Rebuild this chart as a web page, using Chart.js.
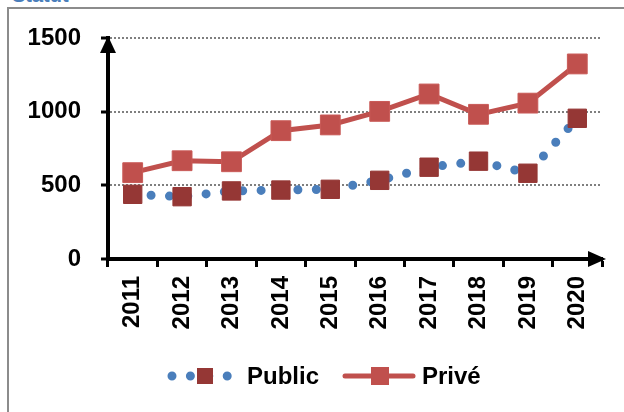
<!DOCTYPE html>
<html lang="fr"><head>
<meta charset="utf-8"/>
<title>Public / Privé</title>
<script src="https://cdn.jsdelivr.net/npm/chart.js"></script>
<style>
    html, body { margin: 0; padding: 0; background: #fff; }
    body {
        width: 624px; height: 412px; position: relative; overflow: hidden;
        font-family: 'Liberation Sans', Arial, sans-serif;
    }
    #caption {
        position: absolute; left: 12px; top: -15px;
        font-size: 20px; line-height: 20px; font-weight: bold; color: #4a7ebb;
    }
    #frame {
        position: absolute; left: 7px; top: 7px; width: 720px; height: 520px;
        border: 2px solid #8c8c8c;
    }
    #chart { position: absolute; left: 0; top: 0; }
</style>
</head>
<body>
<div id="caption">Statut</div>
<div id="frame"></div>
<canvas id="chart" width="624" height="412"></canvas>
<script>
    const years = ['2011', '2012', '2013', '2014', '2015', '2016', '2017', '2018', '2019', '2020'];
    const publicValues = [439, 423, 462, 468, 473, 534, 623, 664, 582, 955];
    const priveValues = [586, 667, 660, 871, 910, 1002, 1120, 982, 1058, 1324];
    const yTicks = [0, 500, 1000, 1500];

    const FONT = "'Liberation Sans', Arial, sans-serif";
    const blue = '#4a7ebb';
    const darkRed = '#953735';
    const red = '#c0504d';

    // arrows at the end of both axes
    const axisArrows = {
        id: 'axisArrows',
        afterDraw(chart) {
            const { ctx, chartArea } = chart;
            const ax = chart.scales.y.right;
            const ay = chart.scales.x.top;
            ctx.save();
            ctx.fillStyle = '#000';
            ctx.beginPath();
            ctx.moveTo(ax, chartArea.top - 2);
            ctx.lineTo(ax - 8, chartArea.top + 15);
            ctx.lineTo(ax + 8, chartArea.top + 15);
            ctx.closePath();
            ctx.fill();
            ctx.beginPath();
            ctx.moveTo(chartArea.right + 4, ay);
            ctx.lineTo(chartArea.right - 14, ay - 8);
            ctx.lineTo(chartArea.right - 14, ay + 8);
            ctx.closePath();
            ctx.fill();
            ctx.restore();
        }
    };

    // legend drawn by hand so the "Public" sample shows dots and a square
    const customLegend = {
        id: 'customLegend',
        afterDraw(chart) {
            const { ctx } = chart;
            const [pub, pri] = chart.data.datasets;
            const y = 376;
            ctx.save();
            ctx.font = 'bold 24px ' + FONT;
            ctx.textBaseline = 'middle';

            ctx.strokeStyle = pub.borderColor;
            ctx.lineWidth = pub.borderWidth;
            ctx.lineCap = 'round';
            ctx.setLineDash(pub.borderDash);
            ctx.beginPath();
            ctx.moveTo(172, y);
            ctx.lineTo(230, y);
            ctx.stroke();
            ctx.setLineDash([]);
            ctx.fillStyle = pub.pointBackgroundColor;
            ctx.fillRect(197, y - 8, 16, 16);
            ctx.fillStyle = '#000';
            ctx.fillText(pub.label, 247, y + 1);

            ctx.strokeStyle = pri.borderColor;
            ctx.lineWidth = pri.borderWidth;
            ctx.beginPath();
            ctx.moveTo(345, y);
            ctx.lineTo(413, y);
            ctx.stroke();
            ctx.fillStyle = pri.pointBackgroundColor;
            ctx.fillRect(371, y - 9, 18, 18);
            ctx.fillStyle = '#000';
            ctx.fillText(pri.label, 422, y + 1);
            ctx.restore();
        }
    };

    new Chart(document.getElementById('chart'), {
        type: 'line',
        data: {
            labels: years,
            datasets: [
                {
                    label: 'Public',
                    data: publicValues,
                    borderColor: blue,
                    borderWidth: 9,
                    borderDash: [0, 18.4],
                    borderCapStyle: 'round',
                    tension: 0,
                    pointStyle: 'rect',
                    pointRadius: 13,
                    pointBackgroundColor: darkRed,
                    pointBorderColor: darkRed,
                    pointBorderWidth: 1
                },
                {
                    label: 'Privé',
                    data: priveValues,
                    borderColor: red,
                    borderWidth: 5,
                    borderCapStyle: 'round',
                    tension: 0,
                    pointStyle: 'rect',
                    pointRadius: 14,
                    pointBackgroundColor: red,
                    pointBorderColor: '#c95a57',
                    pointBorderWidth: 1
                }
            ]
        },
        options: {
            responsive: false,
            animation: false,
            layout: { padding: { left: 0, right: 22, top: 38, bottom: 0 } },
            plugins: {
                legend: { display: false },
                tooltip: { enabled: false }
            },
            scales: {
                x: {
                    offset: true,
                    grid: {
                        offset: true,
                        drawOnChartArea: false,
                        drawTicks: true,
                        tickLength: 8,
                        tickColor: '#000',
                        tickWidth: 3
                    },
                    border: { display: true, color: '#000', width: 4 },
                    ticks: {
                        autoSkip: false,
                        minRotation: 90,
                        maxRotation: 90,
                        padding: 9,
                        color: '#000',
                        font: { family: FONT, size: 24, weight: 'bold' }
                    },
                    afterFit(scale) { scale.height = 153; }
                },
                y: {
                    min: 0,
                    max: 1500,
                    afterBuildTicks(scale) { scale.ticks = yTicks.map(v => ({ value: v })); },
                    grid: {
                        color: '#7f7f7f',
                        lineWidth: 2,
                        drawTicks: true,
                        tickLength: 7,
                        tickColor: '#000',
                        tickWidth: 3,
                        tickBorderDash: []
                    },
                    border: { display: true, color: '#000', width: 4, dash: [2, 2] },
                    ticks: {
                        padding: 20,
                        color: '#000',
                        font: { family: FONT, size: 24, weight: 'bold' },
                        callback: v => String(v)
                    },
                    afterFit(scale) { scale.width = 108; }
                }
            }
        },
        plugins: [axisArrows, customLegend]
    });
</script>
</body></html>
